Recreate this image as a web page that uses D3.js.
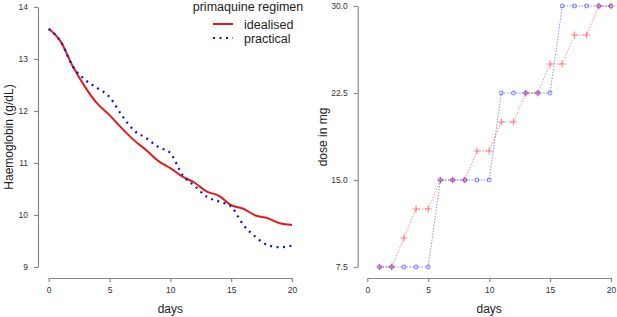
<!DOCTYPE html>
<html>
<head>
<meta charset="utf-8">
<script src="https://cdn.jsdelivr.net/npm/d3@7"></script>
<style>
  body { margin: 0; background: #fff; }
  svg { font-family: "Liberation Sans", Arial, sans-serif; }
</style>
</head>
<body>
<div id="chart"></div>
<script>
// Haemoglobin panel
const hbDays = d3.range(0, 21);
const hbIdealised = [13.58, 13.33, 12.85, 12.46, 12.14, 11.92, 11.67, 11.44, 11.25, 11.04, 10.90,
	10.74, 10.62, 10.45, 10.37, 10.19, 10.12, 9.99, 9.94, 9.84, 9.81];
const hbPractical = [13.58, 13.33, 12.85, 12.60, 12.44, 12.27, 11.92, 11.63, 11.48, 11.31, 11.19,
	10.77, 10.56, 10.35, 10.26, 10.16, 9.81, 9.58, 9.42, 9.38, 9.41];
const hbTicks = [9, 10, 11, 12, 13, 14];

// Dose panel
const doseDays = d3.range(1, 21);
const doseIdealised = [7.5, 7.5, 10, 12.5, 12.5, 15, 15, 15, 17.5, 17.5, 20, 20, 22.5, 22.5, 25, 25, 27.5, 27.5, 30, 30];
const dosePractical = [7.5, 7.5, 7.5, 7.5, 7.5, 15, 15, 15, 15, 15, 22.5, 22.5, 22.5, 22.5, 22.5, 30, 30, 30, 30, 30];
const doseTicks = [7.5, 15, 22.5, 30];

const dayTicks = [0, 5, 10, 15, 20];
const legendLabels = ["idealised", "practical"];

const axisColor = "#888";
const labelColor = "#333";

const svg = d3.select("#chart").append("svg")
	.attr("width", 617)
	.attr("height", 317);

// style an R-like axis group
function styleAxis(g) {
	g.select(".domain").attr("stroke", axisColor).attr("stroke-width", 1.2);
	g.selectAll(".tick line").attr("stroke", axisColor).attr("stroke-width", 1.2);
	g.selectAll(".tick text").attr("fill", labelColor).style("font-size", "8.5px");
}

// ---------- left panel ----------
const x1 = d3.scaleLinear().domain([0, 20]).range([48.7, 292]);
const y1 = d3.scaleLinear().domain([9, 14]).range([267, 7]);

svg.append("g")
	.attr("transform", "translate(0,278)")
	.call(d3.axisBottom(x1).tickValues(dayTicks).tickSize(4).tickSizeOuter(0).tickPadding(5))
	.call(styleAxis);

svg.append("g")
	.attr("transform", "translate(38,0)")
	.call(d3.axisLeft(y1).tickValues(hbTicks).tickFormat(d3.format("d")).tickSize(4).tickSizeOuter(0).tickPadding(6))
	.call(styleAxis);

svg.append("text")
	.attr("x", (48.7 + 292) / 2)
	.attr("y", 313)
	.attr("text-anchor", "middle")
	.style("font-size", "12px")
	.attr("fill", "#222")
	.text("days");

svg.append("text")
	.attr("transform", "translate(13,137) rotate(-90)")
	.attr("text-anchor", "middle")
	.style("font-size", "12px")
	.attr("fill", "#222")
	.text("Haemoglobin (g/dL)");

const hbLine = d3.line()
	.x((d, i) => x1(hbDays[i]))
	.y(d => y1(d))
	.curve(d3.curveMonotoneX);

svg.append("path")
	.datum(hbIdealised)
	.attr("d", hbLine)
	.attr("fill", "none")
	.attr("stroke", "#e31a1c")
	.attr("stroke-width", 2);

svg.append("path")
	.datum(hbPractical)
	.attr("d", hbLine)
	.attr("fill", "none")
	.attr("stroke", "#1010d0")
	.attr("stroke-width", 2.2)
	.attr("stroke-dasharray", "2,4.5");

// legend
const legend = svg.append("g");
legend.append("text")
	.attr("x", 248)
	.attr("y", 11)
	.attr("text-anchor", "middle")
	.style("font-size", "12.5px")
	.attr("fill", "#222")
	.text("primaquine regimen");

legendLabels.forEach((lab, i) => {
	const yy = 24 + i * 14;
	legend.append("line")
		.attr("x1", 213).attr("x2", 233)
		.attr("y1", yy).attr("y2", yy)
		.attr("stroke", i === 0 ? "#e31a1c" : "#1010d0")
		.attr("stroke-width", i === 0 ? 2 : 2.2)
		.attr("stroke-dasharray", i === 0 ? null : "2,4.5");
	legend.append("text")
		.attr("x", 244)
		.attr("y", yy + 4.5)
		.style("font-size", "12.5px")
		.attr("fill", "#222")
		.text(lab);
});

// ---------- right panel ----------
const x2 = d3.scaleLinear().domain([0, 20]).range([367.3, 611]);
const y2 = d3.scaleLinear().domain([7.5, 30]).range([267, 6]);

svg.append("g")
	.attr("transform", "translate(0,278)")
	.call(d3.axisBottom(x2).tickValues(dayTicks).tickSize(4).tickSizeOuter(0).tickPadding(5))
	.call(styleAxis);

svg.append("g")
	.attr("transform", "translate(357.7,0)")
	.call(d3.axisLeft(y2).tickValues(doseTicks).tickFormat(d3.format(".1f")).tickSize(4).tickSizeOuter(0).tickPadding(6))
	.call(styleAxis);

svg.append("text")
	.attr("x", (367.3 + 611) / 2)
	.attr("y", 313)
	.attr("text-anchor", "middle")
	.style("font-size", "12px")
	.attr("fill", "#222")
	.text("days");

svg.append("text")
	.attr("transform", "translate(327,137) rotate(-90)")
	.attr("text-anchor", "middle")
	.style("font-size", "12px")
	.attr("fill", "#222")
	.text("dose in mg");

const doseLine = d3.line()
	.x((d, i) => x2(doseDays[i]))
	.y(d => y2(d));

const redA = "rgba(255,0,0,0.45)";
const blueA = "rgba(0,0,255,0.45)";

svg.append("path")
	.datum(doseIdealised)
	.attr("d", doseLine)
	.attr("fill", "none")
	.attr("stroke", redA)
	.attr("stroke-width", 1)
	.attr("stroke-dasharray", "1.5,1.5");

svg.append("path")
	.datum(dosePractical)
	.attr("d", doseLine)
	.attr("fill", "none")
	.attr("stroke", blueA)
	.attr("stroke-width", 1)
	.attr("stroke-dasharray", "1.5,1.5");

// plus markers
svg.append("g").selectAll("path")
	.data(doseIdealised)
	.join("path")
	.attr("d", (d, i) => {
		const cx = x2(doseDays[i]), cy = y2(d);
		return `M${cx - 3.5},${cy}H${cx + 3.5}M${cx},${cy - 3.5}V${cy + 3.5}`;
	})
	.attr("stroke", redA)
	.attr("stroke-width", 1.2);

// circle markers
svg.append("g").selectAll("circle")
	.data(dosePractical)
	.join("circle")
	.attr("cx", (d, i) => x2(doseDays[i]))
	.attr("cy", d => y2(d))
	.attr("r", 1.9)
	.attr("fill", "none")
	.attr("stroke", blueA)
	.attr("stroke-width", 1.1);
</script>
</body>
</html>
